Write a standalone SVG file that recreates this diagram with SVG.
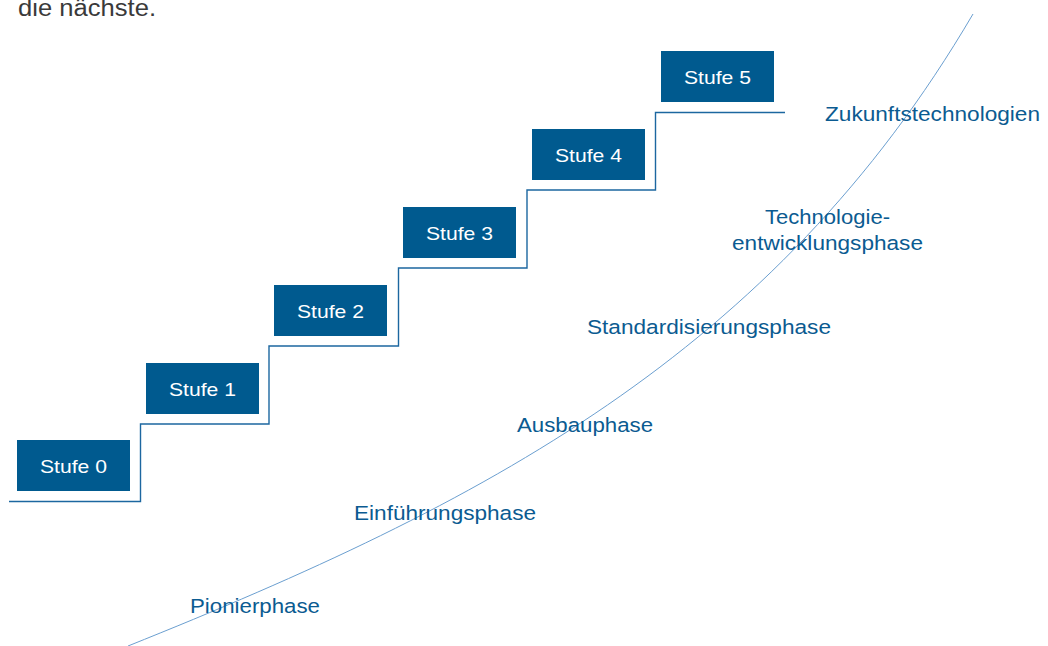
<svg xmlns="http://www.w3.org/2000/svg" width="1048" height="646" viewBox="0 0 1048 646">
<style>
.box{fill:#005a8f}
.st{font-family:"Liberation Sans",Arial,sans-serif;font-size:18.5px;fill:#ffffff;text-anchor:middle}
.ph{font-family:"Liberation Sans",Arial,sans-serif;font-size:20.5px;fill:#0b5b91}
.intro{font-family:"Liberation Sans",Arial,sans-serif;font-size:23px;fill:#3a3a3a}
.stair{fill:none;stroke:#1c67a0;stroke-width:1.4}
.curve{fill:none;stroke:#6b9fd0;stroke-width:1}
</style>
<rect width="1048" height="646" fill="#ffffff"/>
<text class="intro" x="18" y="16" textLength="138" lengthAdjust="spacingAndGlyphs">die nächste.</text>
<g id="connectors">
<path class="stair" d="M9,501.5 H140.5 V424 H269 V346 H398.5 V268 H527 V190 H655.5 V112.5 H785"/>
<path class="curve" d="M128,646 C480,505 773,355 973,14"/>
</g>
<g id="stufe0"><rect class="box" x="17" y="440" width="113" height="51"/><text class="st" x="73.5" y="472.5" textLength="67" lengthAdjust="spacingAndGlyphs">Stufe 0</text></g>
<g id="stufe1"><rect class="box" x="146" y="363" width="113" height="51"/><text class="st" x="202.5" y="395.5" textLength="67" lengthAdjust="spacingAndGlyphs">Stufe 1</text></g>
<g id="stufe2"><rect class="box" x="274" y="285" width="113" height="51"/><text class="st" x="330.5" y="317.5" textLength="67" lengthAdjust="spacingAndGlyphs">Stufe 2</text></g>
<g id="stufe3"><rect class="box" x="403" y="207" width="113" height="51"/><text class="st" x="459.5" y="239.5" textLength="67" lengthAdjust="spacingAndGlyphs">Stufe 3</text></g>
<g id="stufe4"><rect class="box" x="532" y="129" width="113" height="51"/><text class="st" x="588.5" y="161.5" textLength="67" lengthAdjust="spacingAndGlyphs">Stufe 4</text></g>
<g id="stufe5"><rect class="box" x="661" y="51" width="113" height="51"/><text class="st" x="717.5" y="83.5" textLength="67" lengthAdjust="spacingAndGlyphs">Stufe 5</text></g>
<g id="zukunft"><text class="ph" x="825" y="121" textLength="215" lengthAdjust="spacingAndGlyphs">Zukunftstechnologien</text></g>
<g id="technologie"><text class="ph" x="765" y="224" textLength="125" lengthAdjust="spacingAndGlyphs">Technologie-</text><text class="ph" x="732" y="250" textLength="191" lengthAdjust="spacingAndGlyphs">entwicklungsphase</text></g>
<g id="standard"><text class="ph" x="587" y="334" textLength="244" lengthAdjust="spacingAndGlyphs">Standardisierungsphase</text></g>
<g id="ausbau"><text class="ph" x="517" y="431.5" textLength="136" lengthAdjust="spacingAndGlyphs">Ausbauphase</text></g>
<g id="einfuehrung"><text class="ph" x="354" y="520" textLength="182" lengthAdjust="spacingAndGlyphs">Einführungsphase</text></g>
<g id="pionier"><text class="ph" x="190" y="612.5" textLength="130" lengthAdjust="spacingAndGlyphs">Pionierphase</text></g>
</svg>
